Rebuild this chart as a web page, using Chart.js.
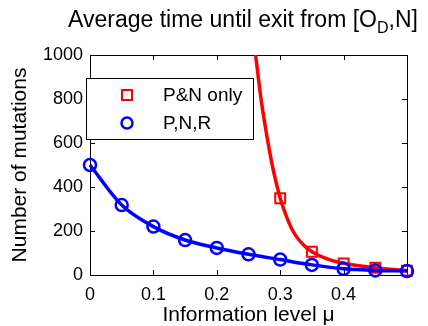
<!DOCTYPE html>
<html>
<head>
<meta charset="utf-8">
<script src="https://cdn.jsdelivr.net/npm/chart.js@4"></script>
<style>
  html, body { margin: 0; padding: 0; background: #fff; }
  #wrap { width: 428px; height: 326px; position: relative; }
</style>
</head>
<body>
<div id="wrap"><canvas id="exitChart"></canvas></div>
<script>
// values
const muLevels = [0, 0.05, 0.1, 0.15, 0.2, 0.25, 0.3, 0.35, 0.4, 0.45, 0.5];
const pnrValues = [500, 318, 220, 159, 123, 94, 70, 46, 28, 21, 18];

const pnMarkerMu = [0.3, 0.35, 0.4, 0.45, 0.5];
const pnMarkerValues = [349, 106, 53, 33, 20];

// fitted red curve
const pnCurveMu = [0.26, 0.27, 0.28, 0.29, 0.3, 0.31, 0.32, 0.33, 0.34, 0.35, 0.375, 0.4, 0.45, 0.5];
const pnCurveValues = [1030, 795, 615, 465, 349, 265, 200, 158, 128, 106, 72, 53, 33, 20];

const xTicks = [0, 0.1, 0.2, 0.3, 0.4, 0.5];
const yTicks = [0, 200, 400, 600, 800, 1000];

const legendLabels = ['P&N only', 'P,N,R'];

const RED = '#ff0000';
const BLUE = '#0000ff';
const FONT = '"Liberation Sans", Arial, sans-serif';

const toPoints = (xs, ys) => xs.map((x, i) => ({ x: x, y: ys[i] }));

// title with subscript
const titlePlugin = {
    id: 'titleSub',
    afterDraw(chart) {
        const ctx = chart.ctx;
        ctx.save();
        ctx.fillStyle = '#000';
        ctx.textBaseline = 'alphabetic';
        const big = '23px ' + FONT;
        const small = '16px ' + FONT;
        const p1 = 'Average time until exit from [O';
        const p2 = 'D';
        const p3 = ',N]';
        ctx.font = big;
        const w1 = ctx.measureText(p1).width;
        const w3 = ctx.measureText(p3).width;
        ctx.font = small;
        const w2 = ctx.measureText(p2).width;
        const total = w1 + w2 + w3;
        let x = 243 - total / 2;
        const base = 27;
        ctx.font = big;
        ctx.fillText(p1, x, base);
        x += w1;
        ctx.font = small;
        ctx.fillText(p2, x, base + 6);
        x += w2;
        ctx.font = big;
        ctx.fillText(p3, x, base);
        ctx.restore();
    }
};

// matlab style box with inward ticks, plus the legend box
const boxPlugin = {
    id: 'boxTicks',
    beforeDatasetsDraw(chart) {
        const { ctx, chartArea: a, scales } = chart;
        ctx.save();
        ctx.strokeStyle = '#000';
        ctx.lineWidth = 1;
        ctx.beginPath();
        ctx.rect(a.left + 0.5, a.top + 0.5, a.right - a.left, a.bottom - a.top);
        xTicks.forEach(v => {
            const px = Math.round(scales.x.getPixelForValue(v)) + 0.5;
            ctx.moveTo(px, a.bottom); ctx.lineTo(px, a.bottom - 5);
            ctx.moveTo(px, a.top); ctx.lineTo(px, a.top + 5);
        });
        yTicks.forEach(v => {
            const py = Math.round(scales.y.getPixelForValue(v)) + 0.5;
            ctx.moveTo(a.left, py); ctx.lineTo(a.left + 5, py);
            ctx.moveTo(a.right, py); ctx.lineTo(a.right - 5, py);
        });
        ctx.stroke();
        ctx.restore();
    },
    afterDraw(chart) {
        const ctx = chart.ctx;
        ctx.save();
        ctx.fillStyle = '#fff';
        ctx.fillRect(86, 78, 167, 61);
        ctx.strokeStyle = '#000';
        ctx.lineWidth = 1;
        ctx.strokeRect(86.5, 78.5, 167, 61);

        ctx.strokeStyle = RED;
        ctx.lineWidth = 2;
        ctx.strokeRect(122, 90, 10, 10);

        ctx.strokeStyle = BLUE;
        ctx.lineWidth = 2.5;
        ctx.beginPath();
        ctx.arc(127, 123, 5.5, 0, Math.PI * 2);
        ctx.stroke();

        ctx.fillStyle = '#000';
        ctx.font = '19px ' + FONT;
        ctx.textBaseline = 'middle';
        ctx.fillText(legendLabels[0], 163, 96);
        ctx.fillText(legendLabels[1], 163, 124);
        ctx.restore();
    }
};

const ctxExit = document.getElementById('exitChart').getContext('2d');
new Chart(ctxExit, {
    type: 'line',
    data: {
        datasets: [
            {
                label: legendLabels[1],
                data: toPoints(muLevels, pnrValues),
                borderColor: BLUE,
                borderWidth: 3.5,
                cubicInterpolationMode: 'monotone',
                pointStyle: 'circle',
                pointRadius: 6,
                pointBorderWidth: 2.5,
                pointBorderColor: BLUE,
                pointBackgroundColor: 'rgba(0,0,0,0)',
                clip: false,
                order: 1
            },
            {
                label: legendLabels[0] + ' markers',
                data: toPoints(pnMarkerMu, pnMarkerValues),
                showLine: false,
                pointStyle: 'rect',
                pointRadius: 7,
                pointBorderWidth: 2,
                pointBorderColor: RED,
                pointBackgroundColor: 'rgba(0,0,0,0)',
                clip: false,
                order: 2
            },
            {
                label: legendLabels[0],
                data: toPoints(pnCurveMu, pnCurveValues),
                borderColor: RED,
                borderWidth: 3.5,
                cubicInterpolationMode: 'monotone',
                pointRadius: 0,
                order: 3
            }
        ]
    },
    options: {
        responsive: true,
        maintainAspectRatio: false,
        animation: false,
        layout: { padding: { left: 0, top: 55, right: 21, bottom: 0 } },
        plugins: {
            legend: { display: false },
            title: { display: false },
            tooltip: { enabled: false }
        },
        scales: {
            x: {
                type: 'linear',
                min: 0,
                max: 0.5,
                afterBuildTicks: s => { s.ticks = xTicks.map(v => ({ value: v })); },
                afterFit: s => { s.height = 51; },
                grid: { display: false, drawTicks: false },
                border: { display: false },
                ticks: {
                    color: '#000',
                    padding: 9,
                    font: { family: FONT, size: 18 },
                    callback: v => (v === 0.5 ? '' : String(v))
                },
                title: {
                    display: true,
                    text: 'Information level μ',
                    color: '#000',
                    padding: { top: 0, bottom: -2 },
                    font: { family: FONT, size: 21 }
                }
            },
            y: {
                min: 0,
                max: 1000,
                afterBuildTicks: s => { s.ticks = yTicks.map(v => ({ value: v })); },
                afterFit: s => { s.width = 90; },
                grid: { display: false, drawTicks: false },
                border: { display: false },
                ticks: {
                    color: '#000',
                    padding: 7,
                    font: { family: FONT, size: 18 },
                    callback: v => String(v)
                },
                title: {
                    display: true,
                    text: 'Number of mutations',
                    color: '#000',
                    padding: { top: 8, bottom: 0 },
                    font: { family: FONT, size: 21 }
                }
            }
        }
    },
    plugins: [titlePlugin, boxPlugin]
});
</script>
</body>
</html>
